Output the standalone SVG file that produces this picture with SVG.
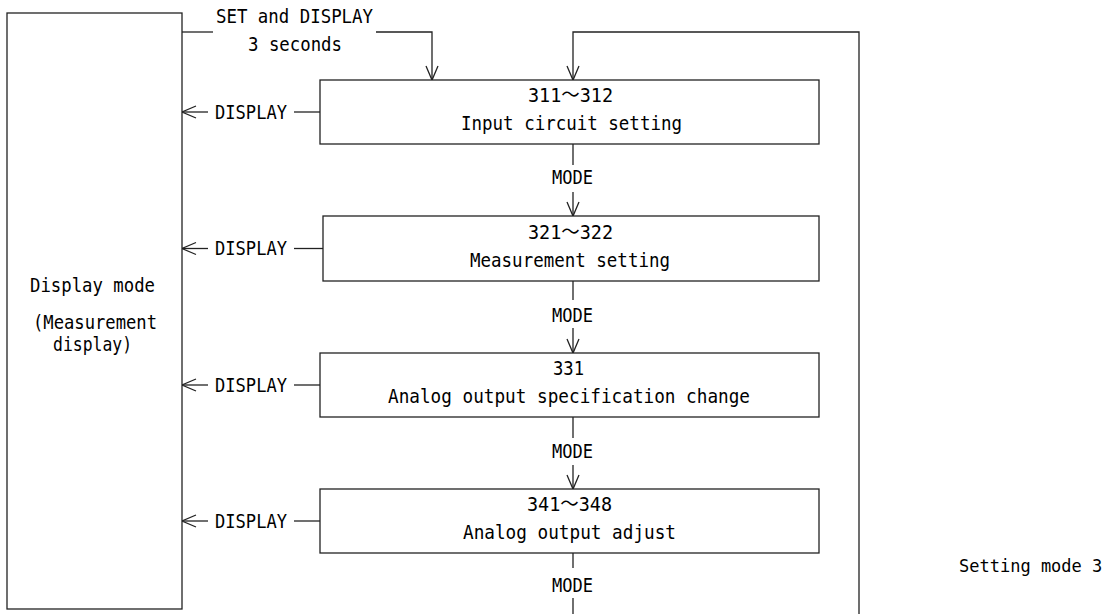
<svg xmlns="http://www.w3.org/2000/svg" width="1112" height="614" viewBox="0 0 1112 614">
<style>
.ln{fill:none;stroke:#222;stroke-width:1.3}
.bx{fill:#fff;stroke:#222;stroke-width:1.3}
text{font-family:"DejaVu Sans Mono","Noto Sans CJK JP",monospace;font-size:20px;fill:#000}
</style>
<defs>
<marker id="ah" markerUnits="userSpaceOnUse" markerWidth="20" markerHeight="20" viewBox="-16 -10 20 20" refX="0" refY="0" orient="auto">
<path d="M-14,-6 L0,0 L-14,6" fill="none" stroke="#222" stroke-width="1.3"/>
</marker>
</defs>
<rect width="1112" height="614" fill="#fff"/>
<g id="connectors">
<path class="ln" d="M182,32 H213"/>
<path class="ln" d="M376,32 H432 V80" marker-end="url(#ah)"/>
<path class="ln" d="M859,614 V32 H573 V80" marker-end="url(#ah)"/>
<path class="ln" d="M573,144 V165"/>
<path class="ln" d="M573,192 V216" marker-end="url(#ah)"/>
<path class="ln" d="M573,281 V300"/>
<path class="ln" d="M573,328 V353" marker-end="url(#ah)"/>
<path class="ln" d="M573,417 V438"/>
<path class="ln" d="M573,465 V489" marker-end="url(#ah)"/>
<path class="ln" d="M573,553 V568"/>
<path class="ln" d="M573,598 V614"/>
<path class="ln" d="M208,112 H182" marker-end="url(#ah)"/>
<path class="ln" d="M294,112 H320"/>
<path class="ln" d="M208,248.5 H182" marker-end="url(#ah)"/>
<path class="ln" d="M294,248.5 H323"/>
<path class="ln" d="M208,385 H182" marker-end="url(#ah)"/>
<path class="ln" d="M294,385 H320"/>
<path class="ln" d="M208,521 H182" marker-end="url(#ah)"/>
<path class="ln" d="M294,521 H320"/>
<text x="216" y="23" textLength="157" lengthAdjust="spacingAndGlyphs">SET and DISPLAY</text>
<text x="248" y="51" textLength="94" lengthAdjust="spacingAndGlyphs">3 seconds</text>
<text x="215" y="119" textLength="72" lengthAdjust="spacingAndGlyphs">DISPLAY</text>
<text x="215" y="255" textLength="72" lengthAdjust="spacingAndGlyphs">DISPLAY</text>
<text x="215" y="392" textLength="72" lengthAdjust="spacingAndGlyphs">DISPLAY</text>
<text x="215" y="528" textLength="72" lengthAdjust="spacingAndGlyphs">DISPLAY</text>
<text x="552" y="184" textLength="41" lengthAdjust="spacingAndGlyphs">MODE</text>
<text x="552" y="322" textLength="41" lengthAdjust="spacingAndGlyphs">MODE</text>
<text x="552" y="458" textLength="41" lengthAdjust="spacingAndGlyphs">MODE</text>
<text x="552" y="592" textLength="41" lengthAdjust="spacingAndGlyphs">MODE</text>
</g>
<g id="display-mode">
<rect class="bx" x="7" y="13" width="175" height="596"/>
<text x="30" y="292" textLength="125" lengthAdjust="spacingAndGlyphs">Display mode</text>
<text x="33" y="329" textLength="124" lengthAdjust="spacingAndGlyphs">(Measurement</text>
<text x="53" y="351" textLength="79" lengthAdjust="spacingAndGlyphs">display)</text>
</g>
<g id="node-311">
<rect class="bx" x="320" y="80" width="499" height="64"/>
<text x="528" y="102" textLength="85" lengthAdjust="spacingAndGlyphs">311〜312</text>
<text x="461" y="130" textLength="221" lengthAdjust="spacingAndGlyphs">Input circuit setting</text>
</g>
<g id="node-321">
<rect class="bx" x="323" y="216" width="496" height="65"/>
<text x="528" y="239" textLength="85" lengthAdjust="spacingAndGlyphs">321〜322</text>
<text x="470" y="267" textLength="200" lengthAdjust="spacingAndGlyphs">Measurement setting</text>
</g>
<g id="node-331">
<rect class="bx" x="320" y="353" width="499" height="64"/>
<text x="553" y="375" textLength="31" lengthAdjust="spacingAndGlyphs">331</text>
<text x="388" y="403" textLength="362" lengthAdjust="spacingAndGlyphs">Analog output specification change</text>
</g>
<g id="node-341">
<rect class="bx" x="320" y="489" width="499" height="64"/>
<text x="527" y="511" textLength="85" lengthAdjust="spacingAndGlyphs">341〜348</text>
<text x="463" y="539" textLength="213" lengthAdjust="spacingAndGlyphs">Analog output adjust</text>
</g>
<g id="caption">
<text x="959" y="572" style="font-size:17px">Setting mode 3</text>
</g>
</svg>
